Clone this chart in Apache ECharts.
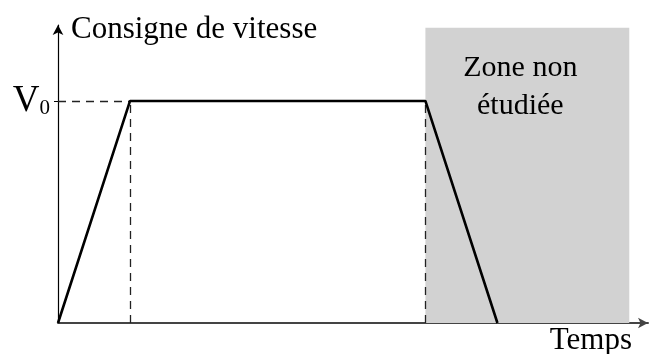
<!DOCTYPE html>
<html>
<head>
<meta charset="utf-8">
<script src="https://cdn.jsdelivr.net/npm/echarts@6/dist/echarts.min.js"></script>
<style>
  html, body { margin: 0; padding: 0; background: #fff; }
  #chart-container { width: 660px; height: 354px; }
</style>
</head>
<body>
<div id="chart-container"></div>
<script>
// profil de consigne (temps en unites arbitraires, vitesse rapportee a V0)
const profileTime = [0, 1, 5.1, 6.1];
const profileSpeed = [0, 1, 1, 0];
const v0 = 1;
const rampEnd = 1;
const plateauEnd = 5.1;
const zoneStart = 5.1;
const zoneEnd = 7.93;
const zoneTop = 1.33;
const timeMax = 8.19;
const speedMax = 1.342;

var dom = document.getElementById('chart-container');
var myChart = echarts.init(dom, null, { renderer: 'canvas' });

var serif = 'Liberation Serif';

var data = profileTime.map((t, i) => [t, profileSpeed[i]]);

var dashStyle = { color: '#222', width: 1.3, type: [8, 6] };

var option = {
    animation: false,
    textStyle: { fontFamily: serif },
    grid: { left: 58, right: 12, top: 25, bottom: 31, outerBoundsMode: 'none', containLabel: false },
    xAxis: {
        type: 'value',
        min: 0,
        max: timeMax,
        splitLine: { show: false },
        axisTick: { show: false },
        axisLabel: { show: false },
        axisLine: {
            lineStyle: { color: '#444', width: 2 },
            symbol: ['none', 'arrow'],
            symbolSize: [8, 10]
        },
        name: 'Temps',
        nameLocation: 'end',
        nameGap: -16,
        nameTextStyle: {
            fontFamily: serif,
            fontSize: 31,
            color: '#000',
            align: 'right',
            verticalAlign: 'top',
            padding: [2, 0, 0, 0]
        }
    },
    yAxis: {
        type: 'value',
        min: 0,
        max: speedMax,
        splitLine: { show: false },
        axisLine: {
            lineStyle: { color: '#000', width: 1.2 },
            symbol: ['none', 'arrow'],
            symbolSize: [8, 10]
        },
        axisTick: {
            customValues: [v0],
            length: 4,
            lineStyle: { color: '#000' }
        },
        axisLabel: {
            customValues: [v0],
            margin: 8,
            formatter: () => '{v|V}{s|0}',
            rich: {
                v: { fontFamily: serif, fontSize: 37, color: '#000', lineHeight: 37, verticalAlign: 'middle' },
                s: { fontFamily: serif, fontSize: 21, color: '#000', lineHeight: 21, verticalAlign: 'bottom', padding: [20, 0, 0, 0] }
            }
        },
        name: 'Consigne de vitesse',
        nameLocation: 'end',
        nameGap: -5,
        nameTextStyle: {
            fontFamily: serif,
            fontSize: 31,
            color: '#000',
            align: 'left',
            verticalAlign: 'middle',
            padding: [0, 0, 0, 13]
        }
    },
    series: [
        {
            type: 'line',
            data: data,
            showSymbol: false,
            symbol: 'none',
            lineStyle: { color: '#000', width: 2.6 },
            z: 5,
            markArea: {
                silent: true,
                itemStyle: { color: '#d2d2d2' },
                label: {
                    show: true,
                    position: 'insideTop',
                    distance: 21,
                    offset: [-7, 0],
                    formatter: 'Zone non\nétudiée',
                    fontFamily: serif,
                    fontSize: 30,
                    lineHeight: 38,
                    color: '#000',
                    align: 'center'
                },
                data: [[
                    { coord: [zoneStart, 0] },
                    { coord: [zoneEnd, zoneTop] }
                ]]
            },
            markLine: {
                silent: true,
                symbol: 'none',
                label: { show: false },
                lineStyle: dashStyle,
                data: [
                    [{ coord: [0, v0] }, { coord: [rampEnd, v0] }],
                    [{ coord: [rampEnd, 0] }, { coord: [rampEnd, v0] }],
                    [{ coord: [plateauEnd, 0] }, { coord: [plateauEnd, v0] }]
                ]
            }
        }
    ]
};

myChart.setOption(option);

window.addEventListener('resize', myChart.resize);
</script>
</body>
</html>
